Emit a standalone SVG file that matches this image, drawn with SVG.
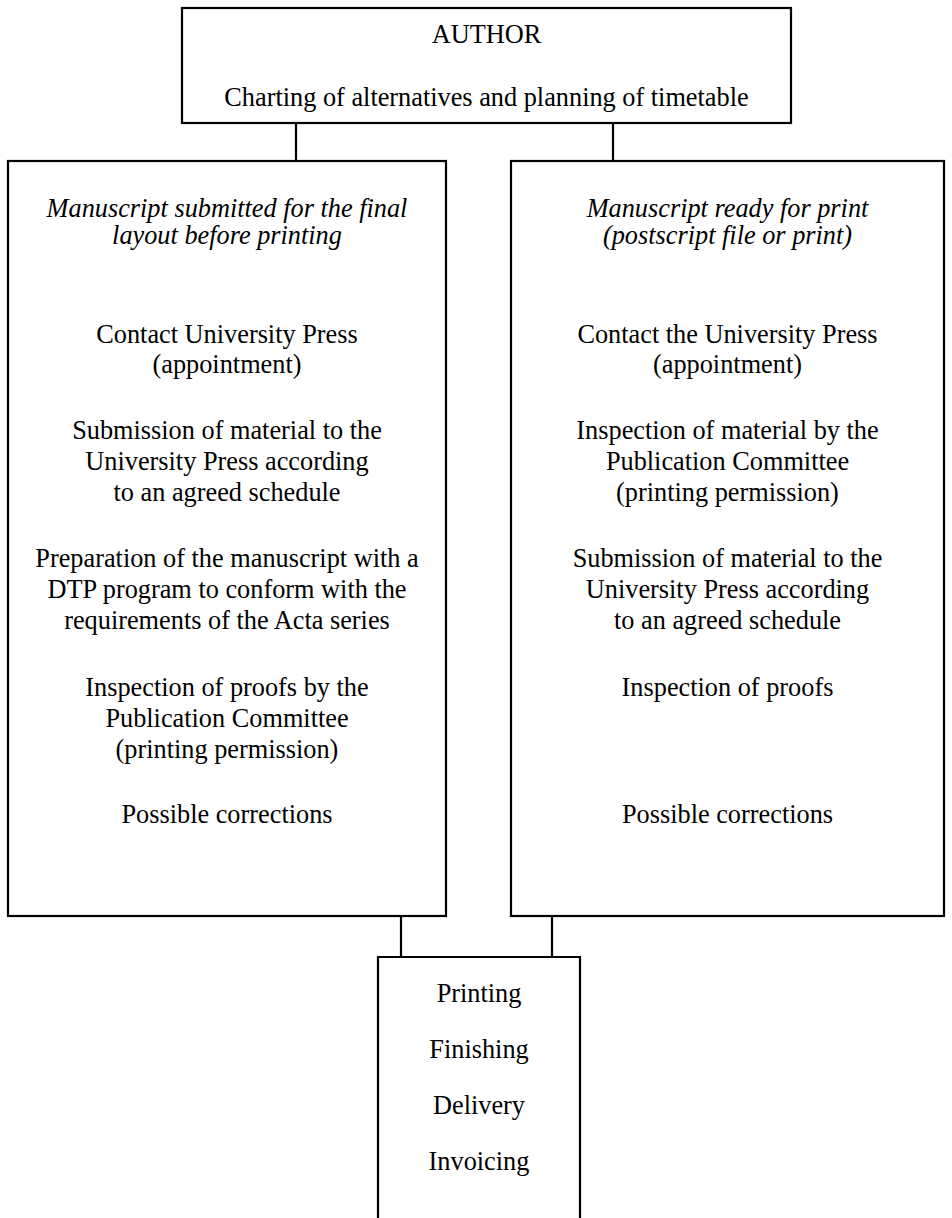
<svg xmlns="http://www.w3.org/2000/svg" width="952" height="1218" viewBox="0 0 952 1218">
<style>
.box{fill:#fff;stroke:#000;stroke-width:2.2}
.ln{stroke:#000;stroke-width:2.2;fill:none}
text{font-family:"Liberation Serif","Times New Roman",serif;font-size:26.3px;fill:#000;text-anchor:middle}
.it{font-style:italic}
</style>
<g id="connectors">
<line class="ln" x1="296" y1="123" x2="296" y2="161"/>
<line class="ln" x1="613" y1="123" x2="613" y2="161"/>
<line class="ln" x1="401" y1="916" x2="401" y2="957"/>
<line class="ln" x1="552" y1="916" x2="552" y2="957"/>
</g>
<g id="author">
<rect class="box" x="182" y="8" width="609" height="115"/>
<text x="486.5" y="43">AUTHOR</text>
<text x="486.5" y="106">Charting of alternatives and planning of timetable</text>
</g>
<g id="left">
<rect class="box" x="8" y="161" width="438" height="755"/>
<text class="it" x="227" y="217">Manuscript submitted for the final</text>
<text class="it" x="227" y="244">layout before printing</text>
<text x="227" y="343">Contact University Press</text>
<text x="227" y="373">(appointment)</text>
<text x="227" y="439">Submission of material to the</text>
<text x="227" y="470">University Press according</text>
<text x="227" y="501">to an agreed schedule</text>
<text x="227" y="567">Preparation of the manuscript with a</text>
<text x="227" y="598">DTP program to conform with the</text>
<text x="227" y="629">requirements of the Acta series</text>
<text x="227" y="696">Inspection of proofs by the</text>
<text x="227" y="727">Publication Committee</text>
<text x="227" y="758">(printing permission)</text>
<text x="227" y="823">Possible corrections</text>
</g>
<g id="right">
<rect class="box" x="511" y="161" width="433" height="755"/>
<text class="it" x="727.5" y="217">Manuscript ready for print</text>
<text class="it" x="727.5" y="244">(postscript file or print)</text>
<text x="727.5" y="343">Contact the University Press</text>
<text x="727.5" y="373">(appointment)</text>
<text x="727.5" y="439">Inspection of material by the</text>
<text x="727.5" y="470">Publication Committee</text>
<text x="727.5" y="501">(printing permission)</text>
<text x="727.5" y="567">Submission of material to the</text>
<text x="727.5" y="598">University Press according</text>
<text x="727.5" y="629">to an agreed schedule</text>
<text x="727.5" y="696">Inspection of proofs</text>
<text x="727.5" y="823">Possible corrections</text>
</g>
<g id="production">
<path class="box" d="M378 1230 V957 H580 V1230"/>
<text x="479" y="1002">Printing</text>
<text x="479" y="1058">Finishing</text>
<text x="479" y="1114">Delivery</text>
<text x="479" y="1170">Invoicing</text>
</g>
</svg>
